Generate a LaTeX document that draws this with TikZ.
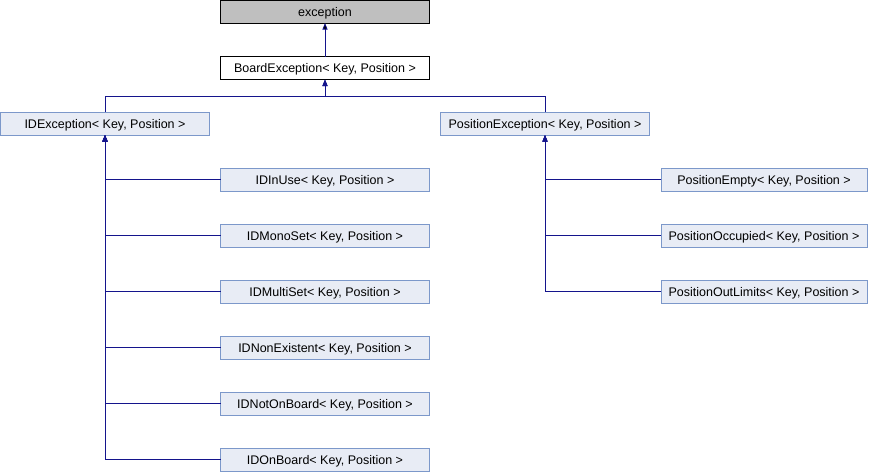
\documentclass[tikz,border=0pt]{standalone}
\usepackage{fontspec}
\setmainfont{Liberation Sans}
\usetikzlibrary{arrows.meta, positioning}

\definecolor{boxfill}{RGB}{232,236,245}
\definecolor{boxline}{RGB}{124,152,202}
\definecolor{rootfill}{RGB}{191,191,191}
\definecolor{edgeblue}{RGB}{20,20,140}

\begin{document}
\begin{tikzpicture}[x=1pt, y=-1pt, node distance=56pt, on grid,
    font=\fontsize{12.5}{14}\selectfont,
    cls/.style={rectangle, draw=boxline, fill=boxfill, line width=0.75pt, minimum width=209pt, minimum height=23pt, inner sep=0pt, outer sep=0pt, text height=9pt, text depth=0pt},
    root/.style={cls, draw=black, fill=rootfill},
    base/.style={cls, draw=black, fill=white},
    poscls/.style={cls, minimum width=206pt},
    edge/.style={draw=edgeblue, line width=0.8pt, -{Triangle[width=5pt, length=6.5pt]}}]

        \useasboundingbox (0,0) rectangle (870,472);

        \node[root] (exc) at (325,11.5) {exception};
        \node[base] (board) at (325,68) {BoardException< Key, Position >};

        \node[cls] (idexc) at (105,123.5) {IDException< Key, Position >};
        \node[cls] (posexc) at (545,123.5) {PositionException< Key, Position >};

        \node[cls] (inuse) at (325,179.5) {IDInUse< Key, Position >};
        \node[cls, below=of inuse] (mono) {IDMonoSet< Key, Position >};
        \node[cls, below=of mono] (multi) {IDMultiSet< Key, Position >};
        \node[cls, below=of multi] (nonex) {IDNonExistent< Key, Position >};
        \node[cls, below=of nonex] (notonb) {IDNotOnBoard< Key, Position >};
        \node[cls, below=of notonb] (onb) {IDOnBoard< Key, Position >};

        \node[poscls] (empty) at (764,179.5) {PositionEmpty< Key, Position >};
        \node[poscls, below=of empty] (occ) {PositionOccupied< Key, Position >};
        \node[poscls, below=of occ] (outlim) {PositionOutLimits< Key, Position >};

        \coordinate (split) at (325,96);

        \path[edge]
        (board) edge (exc);

        \draw[edge] (idexc.north) |- (split) -- (board.south);
        \draw[edge] (posexc.north) |- (split) -- (board.south);

        \foreach \c in {inuse, mono, multi, nonex, notonb, onb}
            \draw[edge] (\c.west) -| (idexc.south);

        \foreach \c in {empty, occ, outlim}
            \draw[edge] (\c.west) -| (posexc.south);

    \end{tikzpicture}
\end{document}
